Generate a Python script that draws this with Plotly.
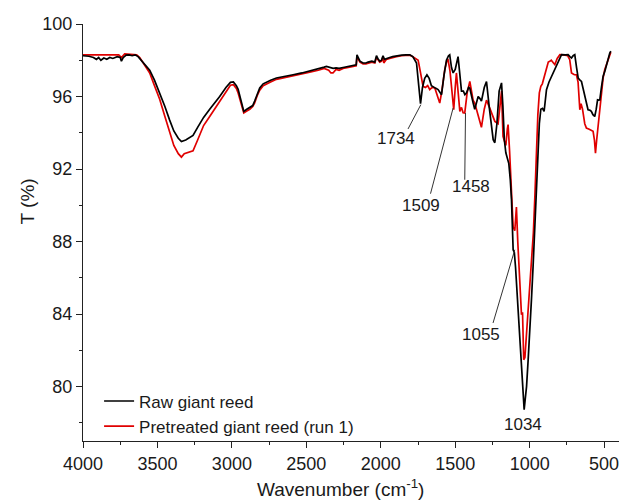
import plotly.graph_objects as go

# Raw giant reed (black)
raw_wn = [4000, 3960, 3930, 3910, 3895, 3880, 3860, 3840, 3820, 3800, 3770, 3750, 3742, 3730, 3710, 3690, 3670, 3650, 3630, 3619,
          3590, 3552, 3520, 3485, 3450, 3418, 3390, 3360, 3339, 3310, 3290, 3261, 3230, 3190, 3149, 3110, 3082, 3040, 3010, 2990,
          2970, 2958, 2940, 2920, 2900, 2880, 2860, 2847, 2830, 2813, 2790, 2768, 2740, 2701, 2650, 2589, 2530, 2477, 2420, 2380,
          2365, 2340, 2320, 2300, 2280, 2253, 2210, 2175, 2165, 2160, 2150, 2140, 2119, 2100, 2085, 2060, 2040, 2029, 2020, 2007,
          1995, 1985, 1975, 1962, 1940, 1920, 1895, 1860, 1830, 1805, 1785, 1772, 1760, 1745, 1733, 1720, 1705, 1690, 1675, 1660,
          1649, 1630, 1615, 1600, 1592, 1575, 1559, 1545, 1537, 1525, 1514, 1500, 1490, 1481, 1470, 1458, 1445, 1435, 1424, 1410,
          1402, 1390, 1380, 1369, 1355, 1346, 1335, 1324, 1305, 1290, 1270, 1255, 1245, 1234, 1220, 1205, 1189, 1180, 1170, 1160,
          1150, 1140, 1130, 1122, 1111, 1103, 1095, 1080, 1067, 1050, 1037, 1030, 1021, 1010, 999, 988, 977, 965, 954, 945,
          935, 925, 914, 903, 895, 887, 870, 853, 835, 820, 800, 786, 760, 742, 730, 719, 708, 697, 685, 674,
          662, 652, 640, 630, 619, 608, 597, 586, 575, 563, 553, 544, 535, 529, 518, 507, 495, 484, 470, 462, 455]
raw_T = [98.25, 98.22, 98.15, 98.05, 98.15, 98.0, 98.12, 98.05, 98.15, 98.1, 98.2, 98.15, 97.95, 98.15, 98.28, 98.3, 98.25, 98.3, 98.2, 98.1,
         97.85, 97.45, 96.9, 96.2, 95.45, 94.7, 94.1, 93.7, 93.52, 93.6, 93.7, 93.85, 94.3, 94.85, 95.3, 95.7, 96.0, 96.5, 96.78, 96.8,
         96.6, 96.4, 95.8, 95.18, 95.3, 95.4, 95.5, 95.75, 96.15, 96.47, 96.7, 96.8, 96.9, 97.02, 97.12, 97.2, 97.3, 97.4, 97.52, 97.62,
         97.66, 97.6, 97.55, 97.58, 97.55, 97.6, 97.68, 97.72, 97.75, 98.3, 98.1, 97.95, 97.85, 97.85, 97.9, 97.95, 97.9, 98.25, 98.1, 97.95,
         98.0, 98.25, 98.05, 98.1, 98.15, 98.2, 98.25, 98.28, 98.3, 98.3, 98.2, 98.0, 97.85, 96.6, 95.6, 96.5, 97.0, 97.2, 97.0, 96.6,
         96.56, 96.45, 96.38, 96.2, 96.1, 97.2, 98.0, 98.25, 98.3, 97.6, 97.3, 97.5, 98.0, 98.2, 97.3, 96.3, 96.3, 96.1, 96.2, 96.5,
         96.45, 95.9, 95.65, 95.3, 95.8, 96.0, 95.9, 95.75, 96.5, 96.83, 95.3, 94.2, 93.62, 93.45, 94.5, 96.3, 96.75, 95.5, 93.6, 92.9,
         92.6, 92.3, 91.4, 90.3, 87.55, 87.4, 86.6, 84.6, 82.96, 80.4, 78.73, 79.3, 80.0, 81.5, 82.96, 84.8, 86.63, 88.8, 91.0, 93.3,
         94.5, 95.3, 95.35, 95.18, 95.8, 96.38, 96.8, 97.11, 97.5, 97.76, 98.1, 98.31, 98.3, 98.31, 98.2, 98.12, 98.25, 98.31, 97.6, 97.02,
         96.9, 96.83, 96.4, 96.0, 95.6, 95.27, 95.25, 95.18, 95.0, 94.9, 95.3, 95.82, 95.8, 95.82, 96.5, 97.11, 97.4, 97.76, 98.1, 98.4, 98.5]

# Pretreated giant reed (run 1) (red)
pre_wn = [4000, 3950, 3900, 3850, 3800, 3760, 3742, 3720, 3680, 3640, 3619, 3590, 3552, 3520, 3485, 3450, 3418, 3390, 3360, 3339,
          3320, 3305, 3280, 3261, 3230, 3190, 3149, 3110, 3082, 3040, 3010, 2990, 2970, 2958, 2940, 2920, 2900, 2880, 2860, 2847,
          2830, 2813, 2790, 2768, 2740, 2701, 2650, 2589, 2530, 2477, 2420, 2380, 2350, 2335, 2321, 2300, 2280, 2253, 2210, 2175,
          2165, 2160, 2150, 2140, 2119, 2100, 2060, 2040, 2029, 2020, 2007, 1995, 1985, 1980, 1970, 1962, 1940, 1920, 1895, 1860,
          1830, 1805, 1785, 1765, 1749, 1735, 1716, 1700, 1685, 1671, 1655, 1637, 1620, 1604, 1590, 1570, 1555, 1548, 1535, 1520,
          1510, 1500, 1492, 1480, 1469, 1458, 1447, 1436, 1420, 1402, 1390, 1380, 1369, 1355, 1346, 1335, 1324, 1305, 1290, 1270,
          1250, 1234, 1212, 1201, 1189, 1179, 1170, 1160, 1150, 1145, 1135, 1125, 1111, 1100, 1089, 1080, 1067, 1055, 1048, 1040,
          1032, 1021, 1005, 988, 975, 965, 955, 945, 935, 925, 915, 905, 890, 875, 865, 855, 840, 831, 815, 797,
          770, 745, 731, 719, 700, 686, 675, 663, 655, 645, 630, 619, 600, 586, 574, 565, 558, 550, 541, 530,
          518, 507, 496, 480, 462, 455]
pre_T = [98.3, 98.3, 98.28, 98.3, 98.32, 98.3, 98.15, 98.35, 98.33, 98.3, 98.15, 97.8, 97.3, 96.6, 95.85, 94.9, 94.0, 93.3, 92.85, 92.66,
         92.85, 92.88, 92.95, 93.0, 93.6, 94.4, 94.9, 95.4, 95.76, 96.3, 96.62, 96.65, 96.45, 96.2, 95.6, 95.1, 95.2, 95.3, 95.45, 95.65,
         96.05, 96.35, 96.6, 96.7, 96.8, 96.95, 97.05, 97.15, 97.25, 97.35, 97.45, 97.55, 97.45, 97.3, 97.3, 97.5, 97.45, 97.55, 97.62, 97.68,
         97.7, 98.2, 98.0, 97.9, 97.8, 97.8, 97.9, 97.85, 98.15, 98.05, 97.9, 97.95, 98.2, 97.85, 98.0, 98.05, 98.1, 98.15, 98.2, 98.25,
         98.28, 98.28, 98.2, 98.1, 98.0, 97.4, 96.56, 96.5, 96.6, 96.38, 96.5, 96.47, 96.0, 95.64, 96.3, 97.5, 98.0, 98.03, 97.4, 96.0,
         95.27, 96.5, 97.3, 96.2, 95.18, 95.4, 95.1, 95.09, 96.2, 96.83, 96.1, 95.8, 95.64, 95.2, 94.9, 94.6, 94.3, 95.3, 95.8, 95.4,
         94.9, 94.63, 94.5, 95.6, 96.3, 93.8, 93.6, 93.3, 94.2, 94.45, 93.0, 91.0, 88.8, 88.6, 89.9, 88.0, 85.7, 83.97, 84.1, 81.48,
         81.6, 82.96, 84.8, 86.63, 88.5, 90.5, 93.0, 95.0, 96.2, 96.56, 96.7, 97.0, 97.5, 97.9, 97.94, 98.0, 97.85, 97.76, 98.1, 98.31,
         98.3, 98.25, 98.03, 97.3, 97.2, 97.2, 96.8, 95.27, 95.6, 95.3, 94.5, 94.26, 94.2, 94.15, 94.08, 93.6, 92.88, 93.6, 94.35, 95.3,
         96.38, 97.0, 97.48, 97.9, 98.31, 98.45]

# Peak labels: text, label position (wavenumber, T), leader line start and end (wavenumber, T)
peak_text = ["1734", "1509", "1458", "1055", "1034"]
label_wn = [1899, 1731, 1397, 1324, 1044]
label_T = [93.67, 90.0, 91.04, 82.86, 77.9]
lead_from_wn = [1817, 1666, 1436, 1246, None]
lead_from_T = [94.21, 90.64, 91.41, 83.51, None]
lead_to_wn = [1731, 1514, 1431, 1100, None]
lead_to_T = [95.55, 95.37, 95.09, 87.55, None]

xticks = [4000, 3500, 3000, 2500, 2000, 1500, 1000, 500]
yticks = [80, 84, 88, 92, 96, 100]

FONT = "Liberation Sans, Arial, sans-serif"
TXT = "#1a1a1a"

fig = go.Figure()
fig.add_trace(go.Scatter(x=pre_wn, y=pre_T, mode="lines", name="Pretreated giant reed (run 1)",
                         line=dict(color="#e00000", width=1.7)))
fig.add_trace(go.Scatter(x=raw_wn, y=raw_T, mode="lines", name="Raw giant reed",
                         line=dict(color="#000000", width=1.7)))

for i, t in enumerate(peak_text):
    fig.add_annotation(x=label_wn[i], y=label_T[i], text=t, showarrow=False,
                       font=dict(family=FONT, size=17, color=TXT))
    if lead_from_wn[i] is not None:
        fig.add_shape(type="line", x0=lead_from_wn[i], y0=lead_from_T[i], x1=lead_to_wn[i], y1=lead_to_T[i],
                      line=dict(color="#333333", width=1))

# axis titles placed as in the reference
fig.add_annotation(xref="paper", yref="paper", x=0.4795, y=-0.113, text="Wavenumber (cm<sup>-1</sup>)",
                   showarrow=False, xanchor="center", yanchor="middle",
                   font=dict(family=FONT, size=19, color=TXT))
fig.add_annotation(xref="paper", yref="paper", x=-0.104, y=0.575, text="T (%)", textangle=-90,
                   showarrow=False, xanchor="center", yanchor="middle",
                   font=dict(family=FONT, size=19, color=TXT))

fig.update_layout(
    width=619, height=502,
    margin=dict(l=83, r=0, t=24, b=61),
    paper_bgcolor="white", plot_bgcolor="white",
    font=dict(family=FONT, size=17, color=TXT),
    showlegend=True,
    legend=dict(x=0.03, y=0.138, xanchor="left", yanchor="top", bgcolor="rgba(0,0,0,0)",
                font=dict(family=FONT, size=17, color=TXT), traceorder="reversed",
                tracegroupgap=0, itemwidth=30),
    xaxis=dict(range=[4000, 400], tickmode="array", tickvals=xticks, ticks="outside", ticklen=6,
               tickwidth=1, tickcolor="#222", showline=True, linecolor="#222", linewidth=1,
               showgrid=False, zeroline=False, tickfont=dict(family=FONT, size=18, color=TXT),
               ticklabeloverflow="allow",
               minor=dict(dtick=250, tick0=4000, ticks="outside", ticklen=3, tickcolor="#222", showgrid=False)),
    yaxis=dict(range=[77, 100], tickmode="array", tickvals=yticks, ticks="outside", ticklen=6,
               tickwidth=1, tickcolor="#222", showline=True, linecolor="#222", linewidth=1,
               showgrid=False, zeroline=False, tickfont=dict(family=FONT, size=18, color=TXT),
               minor=dict(dtick=2, tick0=78, ticks="outside", ticklen=3, tickcolor="#222", showgrid=False)),
)

fig.write_html("out.html")
